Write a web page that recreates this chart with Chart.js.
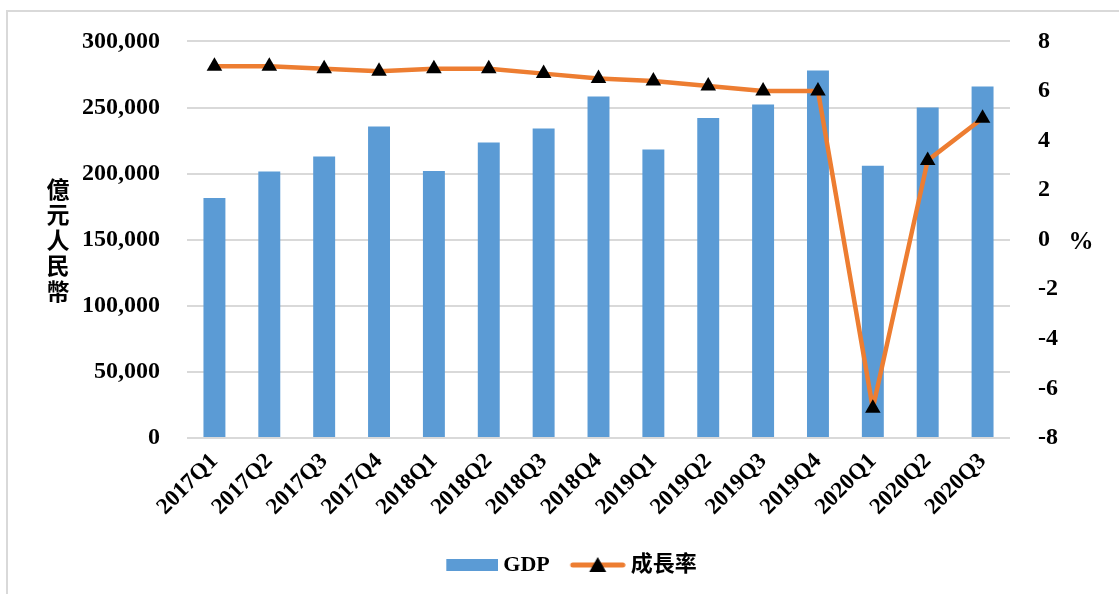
<!DOCTYPE html>
<html>
<head>
<meta charset="utf-8">
<script src="https://cdn.jsdelivr.net/npm/chart.js@4/dist/chart.umd.min.js"></script>
<style>
    body { margin: 0; background: #fff; }
    #box { position: absolute; left: 6px; top: 10px; width: 1130px; height: 600px; border: 2px solid #d9d9d9; }
    #wrap { position: absolute; left: 0; top: 0; width: 1119px; height: 594px; }
</style>
</head>
<body>
<div id="box"></div>
<div id="wrap"><canvas id="myChart" width="1119" height="594"></canvas></div>
<script>

let quarters   = ['2017Q1', '2017Q2', '2017Q3', '2017Q4', '2018Q1', '2018Q2', '2018Q3', '2018Q4',
                  '2019Q1', '2019Q2', '2019Q3', '2019Q4', '2020Q1', '2020Q2', '2020Q3'];
let gdp        = [181500, 201500, 212900, 235600, 201900, 223500, 234100, 258300,
                  218200, 242000, 252300, 278000, 206000, 250000, 265900];
let growthRate = [7.0, 7.0, 6.9, 6.8, 6.9, 6.9, 6.7, 6.5, 6.4, 6.2, 6.0, 6.0, -6.8, 3.2, 4.9];

let leftTicks  = [0, 50000, 100000, 150000, 200000, 250000, 300000];
let rightTicks = [-8, -6, -4, -2, 0, 2, 4, 6, 8];

let leftTitle  = '億元人民幣';
let rightTitle = '%';

const serif = 'Liberation Serif, Times New Roman, serif';

// little pictures for the legend (bar box, and line with triangle)
// they are 58 wide but the legend only keeps 46 for them, so they start 6px left of the slot
function legendBar() {
    let c = document.createElement('canvas');
    c.width = 58; c.height = 12;
    let g = c.getContext('2d');
    g.fillStyle = '#5B9BD5';
    g.fillRect(6, 0, 52, 12);
    return c;
}
function legendLine() {
    let c = document.createElement('canvas');
    c.width = 58; c.height = 20;
    let g = c.getContext('2d');
    g.strokeStyle = '#ED7D31';
    g.lineWidth = 5;
    g.lineCap = 'round';
    g.beginPath(); g.moveTo(5, 10); g.lineTo(55, 10); g.stroke();
    g.fillStyle = '#000';
    g.beginPath(); g.moveTo(30, 2); g.lineTo(38.5, 17); g.lineTo(21.5, 17); g.closePath(); g.fill();
    return c;
}

// axis titles drawn by hand: stacked characters on the left, plain % on the right
const axisTitles = {
    id: 'axisTitles',
    afterLayout(chart) {
        chart.legend.left += 12;      // legend sits a bit right of centre in the original
        chart.legend.right += 12;
    },
    afterDraw(chart) {
        let ctx = chart.ctx;
        ctx.save();
        ctx.fillStyle = '#000';
        ctx.textAlign = 'center';
        ctx.textBaseline = 'middle';
        ctx.font = 'bold 23px "Noto Sans CJK TC"';
        let chars = Array.from(leftTitle);
        for (let i = 0; i < chars.length; i++) {
            ctx.fillText(chars[i], 58, 189 + i * 25.5);
        }
        ctx.font = 'bold 25px ' + serif;
        ctx.fillText(rightTitle, 1081, 243);
        ctx.restore();
    }
};

function loadChart() {
    let ctx = document.getElementById('myChart').getContext('2d');

    new Chart(ctx, {
        data: {
            labels: quarters,
            datasets: [{
                type: 'bar',
                label: 'GDP',
                data: gdp,
                backgroundColor: '#5B9BD5',
                yAxisID: 'y',
                barPercentage: 0.4,
                categoryPercentage: 1,
                order: 2
            }, {
                type: 'line',
                label: '成長率',
                data: growthRate,
                borderColor: '#ED7D31',
                borderWidth: 4.5,
                borderJoinStyle: 'round',     // no sharp spike at the 2020Q1 dip
                borderCapStyle: 'round',
                tension: 0,
                pointStyle: 'triangle',
                pointRadius: 9,
                pointBackgroundColor: '#000',
                pointBorderColor: '#000',
                pointBorderWidth: 0,
                yAxisID: 'y1',
                order: 1
            }]
        },
        options: {
            responsive: false,
            animation: false,
            layout: {
                padding: { left: 0, right: 0, top: 31, bottom: 8 }
            },
            plugins: {
                tooltip: { enabled: false },
                legend: {
                    position: 'bottom',
                    labels: {
                        usePointStyle: true,
                        pointStyleWidth: 46,
                        padding: 24,
                        color: '#000',
                        font: { size: 22, weight: 'bold', family: serif + ', "Noto Sans CJK TC"' },
                        generateLabels: function(chart) {
                            return [
                                { text: 'GDP', pointStyle: legendBar(), datasetIndex: 0, lineWidth: 0, fontColor: '#000' },
                                { text: '成長率', pointStyle: legendLine(), datasetIndex: 1, lineWidth: 0, fontColor: '#000' }
                            ];
                        }
                    }
                }
            },
            scales: {
                x: {
                    grid: { display: false },
                    border: { display: false },
                    ticks: {
                        color: '#000',
                        maxRotation: 45,
                        minRotation: 45,
                        padding: 2,
                        font: { size: 23, weight: 'bold', family: serif }
                    },
                    afterFit: function(axis) { axis.height = 92; }
                },
                y: {
                    position: 'left',
                    min: 0,
                    max: 300000,
                    afterBuildTicks: function(axis) { axis.ticks = leftTicks.map(v => ({ value: v })); },
                    grid: { color: '#d9d9d9', lineWidth: 2, drawTicks: false },
                    border: { display: false },
                    ticks: {
                        color: '#000',
                        padding: 27,
                        font: { size: 24, weight: 'bold', family: serif },
                        callback: v => v.toLocaleString('en-US')
                    },
                    afterFit: function(axis) { axis.width = 187; }
                },
                y1: {
                    position: 'right',
                    min: -8,
                    max: 8,
                    afterBuildTicks: function(axis) { axis.ticks = rightTicks.map(v => ({ value: v })); },
                    grid: { display: false },
                    border: { display: false },
                    ticks: {
                        color: '#000',
                        padding: 20,
                        font: { size: 24, weight: 'bold', family: serif }
                    },
                    afterFit: function(axis) { axis.width = 109; }
                }
            }
        },
        plugins: [axisTitles]
    });
}

loadChart();
</script>
</body>
</html>
